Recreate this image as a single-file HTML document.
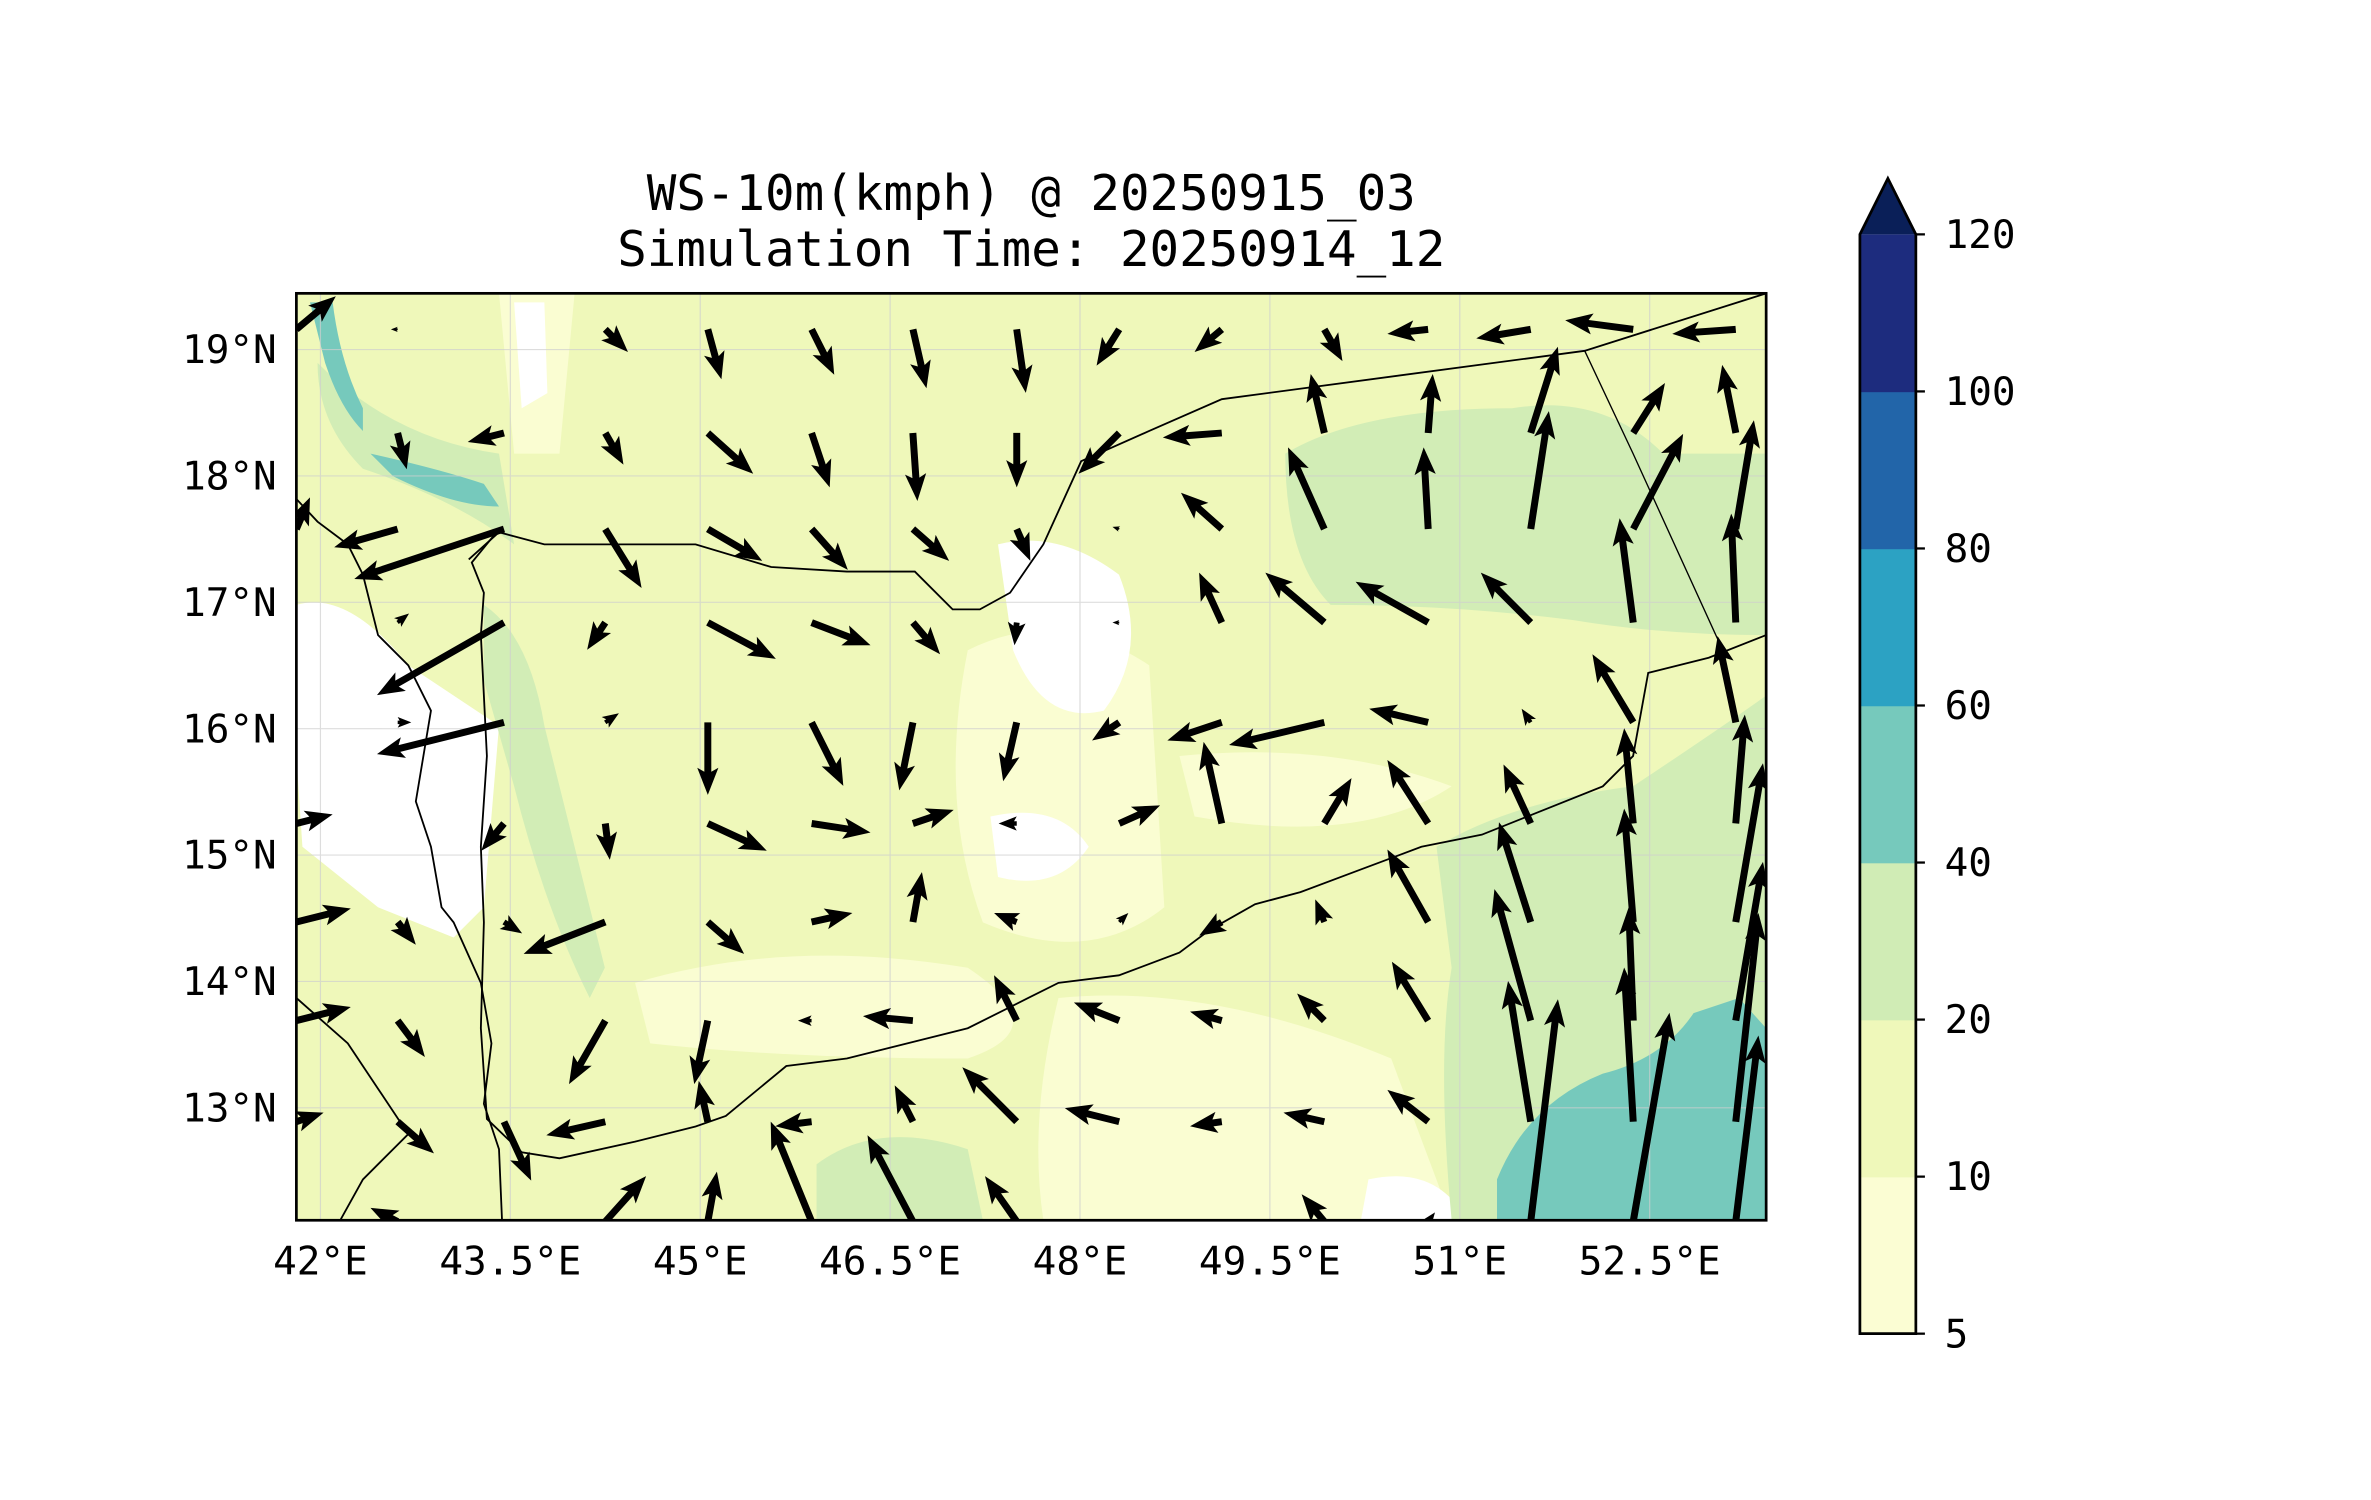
<!DOCTYPE html>
<html><head><meta charset="utf-8"><style>
html,body{margin:0;padding:0;background:#fff;}
svg{display:block;}
text{font-family:"DejaVu Sans Mono","Liberation Mono",monospace;fill:#000;}
</style></head><body>
<svg id="chart" width="2371" height="1500" viewBox="0 0 1568 992" preserveAspectRatio="none" xmlns="http://www.w3.org/2000/svg">
<defs><clipPath id="mapclip"><rect x="196" y="194" width="972" height="613"/></clipPath></defs>
<text x="682" y="139" font-size="32.5" text-anchor="middle">WS-10m(kmph) @ 20250915_03</text>
<text x="682" y="176" font-size="32.5" text-anchor="middle">Simulation Time: 20250914_12</text>
<g id="map" clip-path="url(#mapclip)">
 <rect x="196" y="194" width="972" height="613" fill="#eff8ba"/>
 <g fill="#fafdd2">
  <path d="M640,430 Q700,400 760,440 L770,600 Q720,640 650,610 Q620,530 640,430Z"/>
  <path d="M420,650 Q520,620 640,640 Q700,680 640,700 Q520,700 430,690Z"/>
  <path d="M700,660 Q800,650 920,700 L960,807 L690,807 Q680,740 700,660Z"/>
  <path d="M330,194 L380,194 L370,300 L340,300Z"/>
  <path d="M780,500 Q880,490 960,520 Q900,560 790,540Z"/>
 </g>
 <g fill="#ffffff">
  <path d="M196,400 Q230,390 270,440 L330,480 L320,600 L300,620 L250,600 L200,560 L196,500Z"/>
  <path d="M660,360 Q700,350 740,380 Q760,430 730,470 Q690,480 670,430Z"/>
  <path d="M340,200 L360,200 L362,260 L345,270Z"/>
  <path d="M655,540 Q700,530 720,560 Q700,590 660,580Z"/>
  <path d="M905,780 Q950,770 970,807 L900,807Z"/>
 </g>
 <g fill="#d2edb6">
  <path d="M850,300 Q900,270 1000,270 Q1060,260 1100,300 L1168,300 L1168,420 Q1100,420 1040,410 Q960,400 880,400 Q850,370 850,300Z"/>
  <path d="M950,560 Q1000,530 1080,520 Q1140,480 1168,460 L1168,807 L960,807 Q950,700 960,640Z"/>
  <path d="M540,770 Q580,740 640,760 L650,807 L540,807Z"/>
  <path d="M320,400 Q350,420 360,480 Q380,560 400,640 L390,660 Q360,600 340,520 L320,450Z"/>
  <path d="M210,240 Q260,290 330,300 L340,360 Q300,330 240,310 Q210,280 210,240Z"/>
 </g>
 <g fill="#76c9bc">
  <path d="M990,780 Q1010,730 1060,710 Q1100,700 1120,670 L1150,660 L1168,680 L1168,807 L990,807Z"/>
  <path d="M205,200 L220,200 Q225,240 240,270 L240,285 Q225,270 215,240Z"/>
  <path d="M245,300 Q290,310 320,320 L330,335 Q300,335 260,315Z"/>
 </g>
 <g stroke="#cfcfcf" stroke-width="0.8" opacity="0.7" id="grid"></g>
 <g fill="none" stroke="#000" stroke-width="1.2">
  <polyline points="310,370 330,352 360,360 460,360 510,375 560,378 605,378 630,403 648,403 668,392 690,360 715,305 760,285 808,264 1048,232 1168,194"/>
  <polyline points="1048,232 1080,300 1137,425" stroke-width="0.9"/>
  <polyline points="330,350 312,372 320,392 318,420 322,500 318,560 320,610 318,680 322,740 345,762 370,766 420,755 460,745 480,738 520,705 560,700 600,690 640,680 680,660 700,650 740,645 780,630 800,615 830,598 860,590 900,575 940,560 980,552 1010,540 1060,520 1080,500 1090,445 1130,435 1168,420"/>
  <polyline points="196,330 210,345 230,360 240,380 250,420 270,440 285,470 275,530 285,560 292,600 300,610 318,650 325,690 320,730 330,760 332,807"/>
  <polyline points="196,660 230,690 250,720 270,750 240,780 225,807"/>
 </g>
 <g id="arrows"></g>
</g>
<rect x="196" y="194" width="972" height="613" fill="none" stroke="#000" stroke-width="1.8"/>
<g id="axes"></g>
<g id="cbar"></g>
</svg>
<script>
const NS='http://www.w3.org/2000/svg';
// map extent
const lonMin=41.81, lonMax=53.42, latMin=12.11, latMax=19.445;
const lonTicks=[42,43.5,45,46.5,48,49.5,51,52.5];
const lonLabels=['42°E','43.5°E','45°E','46.5°E','48°E','49.5°E','51°E','52.5°E'];
const latTicks=[19,18,17,16,15,14,13];
const latLabels=['19°N','18°N','17°N','16°N','15°N','14°N','13°N'];
// quiver grid
const gridLon=[41.81,42.61,43.45,44.25,45.06,45.88,46.68,47.50,48.31,49.12,49.93,50.75,51.56,52.37,53.18];
const gridLat=[19.16,18.34,17.58,16.84,16.05,15.25,14.47,13.69,12.89,12.10];
// [col,row,u,v] wind components (kmph)
const windVectors=[
[0,0,8.7,7.3],[1,0,-1.5,0],[3,0,5,-5],[4,0,3,-11],[5,0,5,-10],[6,0,3,-13],[7,0,2,-14],[8,0,-5,-8],[9,0,-6,-5],[10,0,4,-7],[11,0,-9,-1],[12,0,-12,-2],[13,0,-15,2],[14,0,-14,-1],
[1,1,2,-8],[2,1,-8,-2],[3,1,4,-7],[4,1,10,-9],[5,1,4,-12],[6,1,1,-15],[7,1,0,-12],[8,1,-9,-9],[9,1,-13,-1],[10,1,-3,13],[11,1,1,13],[12,1,6,19],[13,1,7,11],[14,1,-3,15],
[0,2,3,7],[1,2,-14,-4],[2,2,-33,-11],[3,2,8,-13],[4,2,12,-7],[5,2,8,-9],[6,2,8,-7],[7,2,3,-7],[8,2,-1.5,0.5],[9,2,-9,8],[10,2,-8,18],[11,2,-1,18],[12,2,4,26],[13,2,11,21],[14,2,4,24],
[1,3,2.5,2],[2,3,-28,-16],[3,3,-4,-6],[4,3,15,-8],[5,3,13,-5],[6,3,6,-7],[7,3,-0.5,-5],[8,3,-1.5,0],[9,3,-5,11],[10,3,-13,11],[11,3,-16,9],[12,3,-11,11],[13,3,-3,23],[14,3,-1,24],
[1,4,3,0],[2,4,-28,-7],[3,4,3,2],[4,4,0,-16],[5,4,7,-14],[6,4,-3,-15],[7,4,-3,-13],[8,4,-6,-4],[9,4,-12,-4],[10,4,-21,-5],[11,4,-13,3],[12,4,-2,3],[13,4,-9,15],[14,4,-4,19],
[0,5,8,2],[2,5,-5,-6],[3,5,1,-8],[4,5,13,-6],[5,5,13,-2],[6,5,9,3],[7,5,-4,0],[8,5,9,4],[9,5,-4,18],[10,5,6,10],[11,5,-9,14],[12,5,-6,13],[13,5,-2,21],[14,5,2,24],
[0,6,12,3],[1,6,4,-5],[2,6,4,-2.5],[3,6,-18,-7],[4,6,8,-7],[5,6,9,2],[6,6,2,11],[7,6,-5,2],[8,6,2,2],[9,6,-5,-3],[10,6,-2,5],[11,6,-9,16],[12,6,-7,22],[13,6,-2,25],[14,6,6,35],
[0,7,12,3],[1,7,6,-8],[3,7,-8,-14],[4,7,-3,-14],[5,7,-3,0],[6,7,-11,1],[7,7,-5,10],[8,7,-10,4],[9,7,-7,2],[10,7,-6,6],[11,7,-8,13],[12,7,-8,29],[13,7,-1,25],[14,7,6,35],
[0,8,6,2],[1,8,8,-7],[2,8,6,-13],[3,8,-13,-3],[4,8,-2,9],[5,8,-8,-1],[6,8,-4,8],[7,8,-12,12],[8,8,-12,3],[9,8,-7,-1],[10,8,-9,2],[11,8,-9,7],[12,8,-5,31],[13,8,-2,34],[14,8,5,46],
[1,9,-6,3],[3,9,9,10],[4,9,2,11],[5,9,-9,22],[6,9,-10,19],[7,9,-7,10],[10,9,-5,6],[11,9,1.5,2],[12,9,6,49],[13,9,8,46],[14,9,5,41]
];
const cbLevels=['5','10','20','40','60','80','100','120'];
const cbColors=['#fbfdd3','#eff8ba','#d0ecb5','#76c9bc','#2ca2c3','#2265a9','#1d2c7e'];
const cbExtendColor='#0a1f58';

// axis functions
const X0=196,X1=1168,Y0=194,Y1=807;
const xs=lon=>X0+(lon-lonMin)/(lonMax-lonMin)*(X1-X0);
const ys=lat=>Y1-(lat-latMin)/(latMax-latMin)*(Y1-Y0);
const kmphPx=3.0;

const grid=document.getElementById('grid');
lonTicks.forEach((t,i)=>{
 const l=document.createElementNS(NS,'line');
 l.setAttribute('x1',xs(t));l.setAttribute('x2',xs(t));l.setAttribute('y1',Y0);l.setAttribute('y2',Y1);
 
 
 grid.appendChild(l);
});
latTicks.forEach((t,i)=>{
 const l=document.createElementNS(NS,'line');
 l.setAttribute('x1',X0);l.setAttribute('x2',X1);l.setAttribute('y1',ys(t));l.setAttribute('y2',ys(t));
 
 
 grid.appendChild(l);
});
const axes=document.getElementById('axes');
lonTicks.forEach((t,i)=>{
 const tx=document.createElementNS(NS,'text');
 tx.setAttribute('x',xs(t));tx.setAttribute('y',843);tx.setAttribute('font-size','26');tx.setAttribute('text-anchor','middle');
 tx.textContent=lonLabels[i];
 
 
 axes.appendChild(tx);
});
latTicks.forEach((t,i)=>{
 const tx=document.createElementNS(NS,'text');
 tx.setAttribute('x',183);tx.setAttribute('y',ys(t)+9);tx.setAttribute('font-size','26');tx.setAttribute('text-anchor','end');
 tx.textContent=latLabels[i];
 
 
 axes.appendChild(tx);
});

// arrows
const ag=document.getElementById('arrows');
windVectors.forEach(w=>{
 const x=xs(gridLon[w[0]]), y=ys(gridLat[w[1]]);
 const dx=w[2]*kmphPx, dy=-w[3]*kmphPx;
 const L=Math.hypot(dx,dy); if(L<0.5)return;
 const ux=dx/L, uy=dy/L, px=-uy, py=ux;
 const k=Math.min(1,L/18);
 const sw=2.3*k, hl=Math.min(18,L), hw=7*k;
 const bx=x+ux*(L-hl*0.85), by=y+uy*(L-hl*0.85);
 const hx=x+ux*(L-hl), hy=y+uy*(L-hl);
 const ex=x+dx, ey=y+dy;
 const pts=[[x+px*sw,y+py*sw],[bx+px*sw,by+py*sw],[hx+px*hw,hy+py*hw],[ex,ey],[hx-px*hw,hy-py*hw],[bx-px*sw,by-py*sw],[x-px*sw,y-py*sw]];
 const p=document.createElementNS(NS,'polygon');
 p.setAttribute('points',pts.map(q=>q[0].toFixed(1)+','+q[1].toFixed(1)).join(' '));
 p.setAttribute('fill','#000');
 
 
 ag.appendChild(p);
});

// colorbar
const cb=document.getElementById('cbar');
const CX0=1230,CX1=1267,CT=155,CB=882,TIP=118;
const segH=(CB-CT)/cbColors.length;
const cy=i=>CB-i*segH;
cbColors.forEach((c,i)=>{
 const r=document.createElementNS(NS,'rect');
 r.setAttribute('x',CX0);r.setAttribute('y',cy(i+1));r.setAttribute('width',CX1-CX0);r.setAttribute('height',segH+0.5);r.setAttribute('fill',c);
 
 
 cb.appendChild(r);
});
const tri=document.createElementNS(NS,'polygon');
tri.setAttribute('points',`${CX0},${CT} ${(CX0+CX1)/2},${TIP} ${CX1},${CT}`);
tri.setAttribute('fill',cbExtendColor);


cb.appendChild(tri);
const outline=document.createElementNS(NS,'polygon');
outline.setAttribute('points',`${CX0},${CB} ${CX0},${CT} ${(CX0+CX1)/2},${TIP} ${CX1},${CT} ${CX1},${CB}`);
outline.setAttribute('fill','none');outline.setAttribute('stroke','#000');outline.setAttribute('stroke-width','1.8');


cb.appendChild(outline);
cbLevels.forEach((lv,i)=>{
 const t=document.createElementNS(NS,'line');
 t.setAttribute('x1',CX1);t.setAttribute('x2',CX1+6);t.setAttribute('y1',cy(i));t.setAttribute('y2',cy(i));t.setAttribute('stroke','#000');t.setAttribute('stroke-width','1.5');
 
 
 cb.appendChild(t);
 const tx=document.createElementNS(NS,'text');
 tx.setAttribute('x',1286);tx.setAttribute('y',cy(i)+9);tx.setAttribute('font-size','26');
 tx.textContent=lv;
 
 
 cb.appendChild(tx);
});
</script>
</body></html>
